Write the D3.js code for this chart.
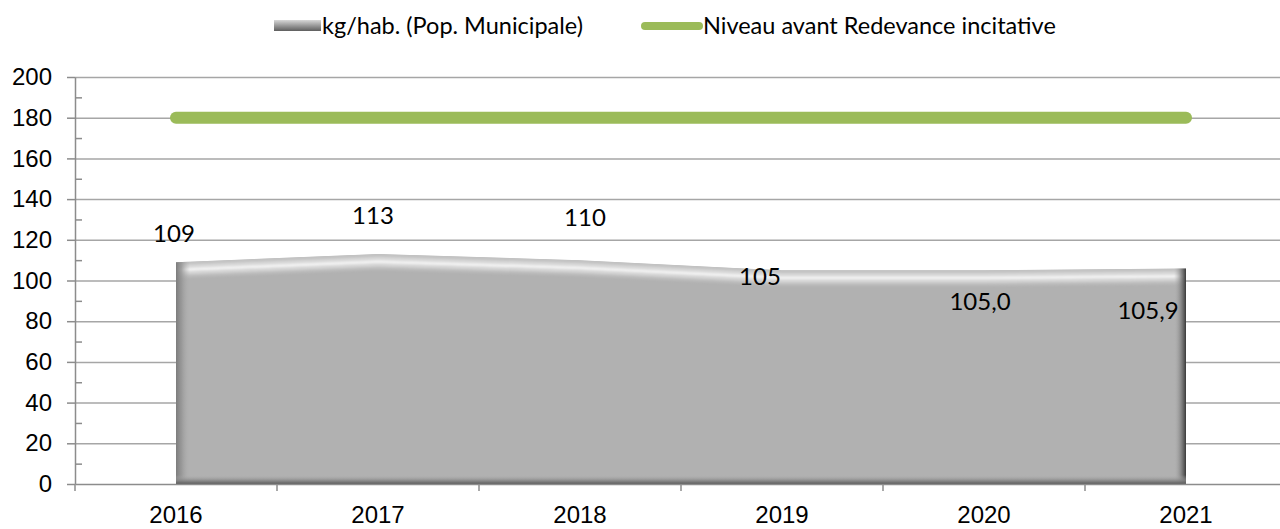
<!DOCTYPE html>
<html>
<head>
<meta charset="utf-8">
<script src="https://cdn.jsdelivr.net/npm/d3@7"></script>
<style>
  body { margin: 0; background: #fff; }
  svg { font-family: Lato, "Open Sans", sans-serif; }
  .axis path, .axis line { stroke: #8c8c8c; stroke-width: 1.5; }
  .axis text { fill: #000; font-size: 24px; }
  .grid line { stroke: #a6a6a6; stroke-width: 1.5; }
  .grid path { display: none; }
</style>
</head>
<body>
<svg id="chart" width="1280" height="529"></svg>
<script>
// data
var years = ["2016", "2017", "2018", "2019", "2020", "2021"];
var kgHab = [109, 113, 110, 105, 105.0, 105.9];
var kgLabels = ["109", "113", "110", "105", "105,0", "105,9"];
var niveauAvant = [180, 180, 180, 180, 180, 180];
var yTicks = [0, 20, 40, 60, 80, 100, 120, 140, 160, 180, 200];
var yMinor = [10, 30, 50, 70, 90, 110, 130, 150, 170, 190];
var seriesNames = ["kg/hab. (Pop. Municipale)", "Niveau avant Redevance incitative"];
// manual label nudges (the labels were dragged around in the original)
var labelNudge = [[-2, -20], [-5, -30], [5, -34], [-22, 15], [-4, 40], [-38, 51]];

var width = 1280, height = 529;
var margin = {top: 77, right: -7, bottom: 45, left: 75};
var plotW = width - margin.left - margin.right,
    plotH = height - margin.top - margin.bottom;

var svg = d3.select("#chart");
var defs = svg.append("defs");

var x = d3.scaleBand().domain(years).range([0, plotW]);
var y = d3.scaleLinear().domain([0, 200]).range([plotH, 0]);
var cx = function(i) { return x(years[i]) + x.bandwidth() / 2; };

var g = svg.append("g")
  .attr("transform", "translate(" + margin.left + "," + margin.top + ")");

// gridlines
g.append("g")
  .attr("class", "grid")
  .call(d3.axisLeft(y).tickValues(yTicks.slice(1)).tickSize(-plotW).tickFormat(""));

// area with bevel look
var data = years.map(function(d, i) { return {year: d, value: kgHab[i], i: i}; });
var area = d3.area()
  .x(function(d) { return cx(d.i); })
  .y0(y(0))
  .y1(function(d) { return y(d.value); });
var topLine = d3.line()
  .x(function(d) { return cx(d.i); })
  .y(function(d) { return y(d.value); });

defs.append("clipPath").attr("id", "areaClip")
  .append("path").attr("d", area(data));
defs.append("filter").attr("id", "soft")
  .append("feGaussianBlur").attr("stdDeviation", 1.2);

function grad(id, x1, y1, x2, y2, stops) {
  var gr = defs.append("linearGradient").attr("id", id)
    .attr("x1", x1).attr("y1", y1).attr("x2", x2).attr("y2", y2);
  stops.forEach(function(s) {
    gr.append("stop").attr("offset", s[0]).attr("stop-color", s[1]).attr("stop-opacity", s[2]);
  });
}
grad("leftG", 0, 0, 1, 0, [[0, "#7c7c7c", 1], [0.4, "#939393", 0.8], [1, "#b1b1b1", 0]]);
grad("rightG", 0, 0, 1, 0, [[0, "#b1b1b1", 0], [0.6, "#7a7a7a", 0.8], [1, "#3a3a3a", 1]]);
grad("bottomG", 0, 0, 0, 1, [[0, "#b1b1b1", 0], [0.6, "#858585", 0.8], [1, "#5a5a5a", 1]]);

var x0 = cx(0), x1 = cx(years.length - 1);
var ar = g.append("g").attr("clip-path", "url(#areaClip)");
ar.append("path").attr("d", area(data)).attr("fill", "#b1b1b1");
// top bevel bands, from the rim downwards
var bevel = ar.append("g").attr("filter", "url(#soft)");
[[0, 8, "#c2c2c2"], [5, 4, "#d9d9d9"], [8, 3, "#f7f7f7"], [11, 4, "#d6d6d6"], [14, 3, "#bdbdbd"]]
  .forEach(function(b) {
    bevel.append("path").attr("d", topLine(data)).attr("fill", "none")
      .attr("transform", "translate(0," + b[0] + ")")
      .attr("stroke", b[2]).attr("stroke-width", b[1]);
  });
ar.append("rect").attr("x", x0).attr("y", 0).attr("width", 14).attr("height", plotH)
  .attr("fill", "url(#leftG)");
ar.append("rect").attr("x", x1 - 12).attr("y", 0).attr("width", 12).attr("height", plotH)
  .attr("fill", "url(#rightG)");
ar.append("rect").attr("x", x0).attr("y", plotH - 9).attr("width", x1 - x0).attr("height", 9)
  .attr("fill", "url(#bottomG)");

// green reference line
g.append("path")
  .datum(niveauAvant)
  .attr("d", d3.line().x(function(d, i) { return cx(i); }).y(function(d) { return y(d); }))
  .attr("fill", "none")
  .attr("stroke", "#9bbb59")
  .attr("stroke-width", 12)
  .attr("stroke-linecap", "round");

// y axis, major ticks outside, minor inside
g.append("g")
  .attr("class", "axis")
  .call(d3.axisLeft(y).tickValues(yTicks).tickSize(8).tickPadding(15).tickSizeOuter(0));
g.append("g")
  .attr("class", "axis")
  .call(d3.axisRight(y).tickValues(yMinor).tickSize(7).tickFormat("").tickSizeOuter(0))
  .select(".domain").remove();

// x axis: labels centred, ticks at category bounds
var xAxis = g.append("g")
  .attr("class", "axis")
  .attr("transform", "translate(0," + plotH + ")")
  .call(d3.axisBottom(x).tickSize(0).tickPadding(25).tickSizeOuter(0));
xAxis.selectAll(".tick text").attr("dy", "0.6em");
xAxis.selectAll(".bound")
  .data(years.map(function(d) { return x(d); }).concat([x.range()[1]]))
  .enter().append("line")
  .attr("x1", function(d) { return d; }).attr("x2", function(d) { return d; })
  .attr("y1", 0).attr("y2", 7)
  .attr("stroke", "#8c8c8c").attr("stroke-width", 1.5);

// data labels
g.selectAll(".lbl")
  .data(data)
  .enter().append("text")
  .attr("x", function(d) { return cx(d.i) + labelNudge[d.i][0]; })
  .attr("y", function(d) { return y(d.value) + labelNudge[d.i][1]; })
  .attr("text-anchor", "middle")
  .attr("font-size", 24)
  .attr("fill", "#000")
  .text(function(d) { return kgLabels[d.i]; });

// legend
grad("legG", 0, 0, 0, 1, [[0, "#d8d8d8", 1], [0.45, "#a0a0a0", 1], [1, "#5e5e5e", 1]]);
var leg = svg.append("g");
leg.append("rect").attr("x", 274).attr("y", 20).attr("width", 47).attr("height", 11)
  .attr("fill", "url(#legG)");
leg.append("text").attr("x", 322).attr("y", 34).attr("font-size", 23.5).text(seriesNames[0]);
leg.append("line").attr("x1", 645).attr("x2", 699).attr("y1", 26).attr("y2", 26)
  .attr("stroke", "#9bbb59").attr("stroke-width", 8).attr("stroke-linecap", "round");
leg.append("text").attr("x", 703).attr("y", 34).attr("font-size", 23.5).text(seriesNames[1]);
</script>
</body>
</html>
